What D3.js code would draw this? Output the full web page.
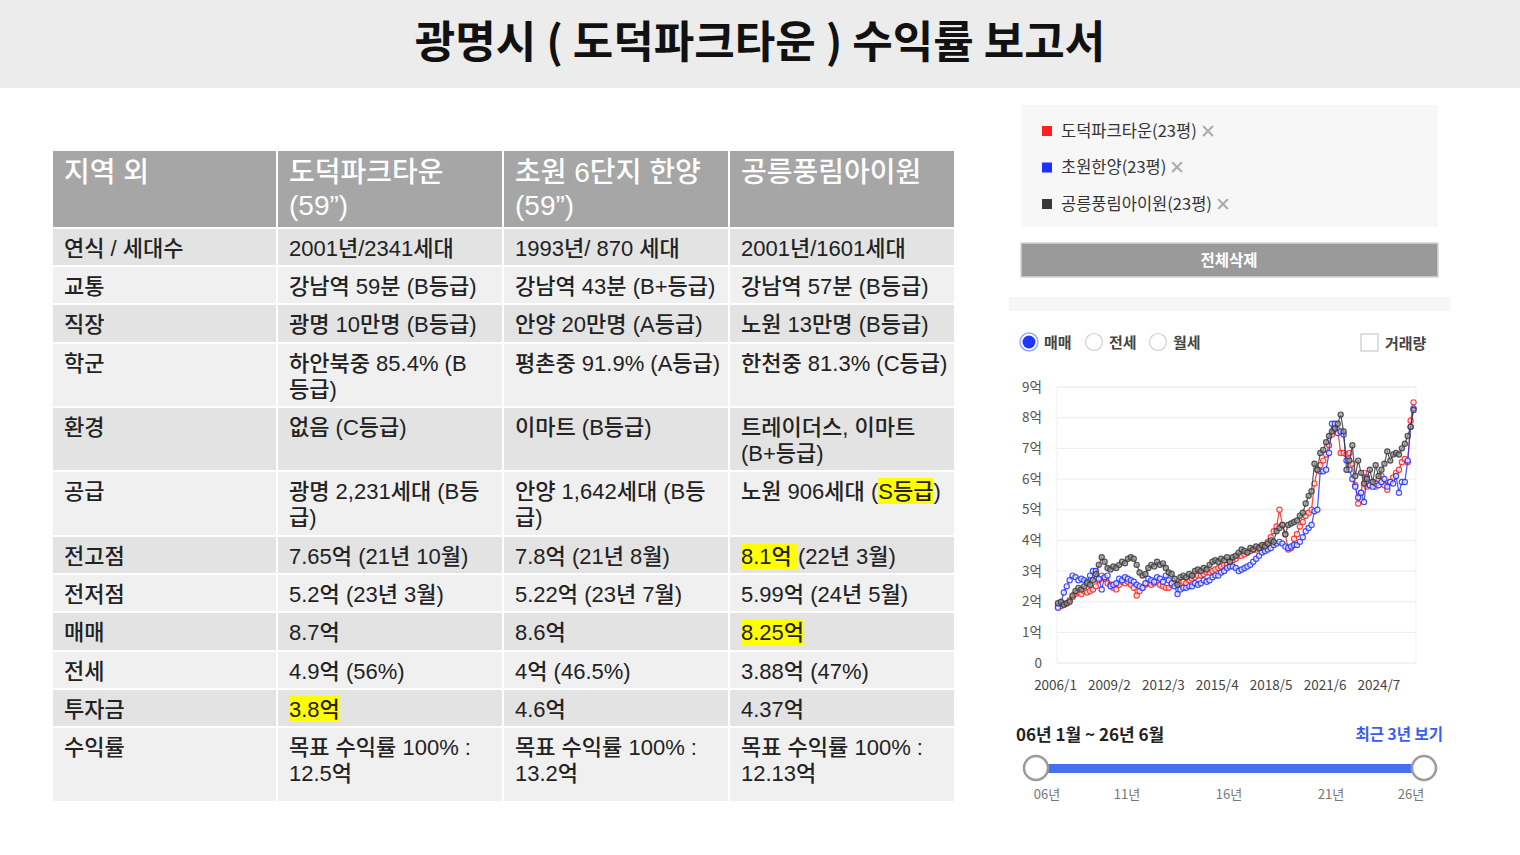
<!DOCTYPE html>
<html><head><meta charset="utf-8">
<script src="https://cdn.jsdelivr.net/npm/d3@7"></script>
<style>body{margin:0;background:#fff;} svg{display:block;}</style>
</head><body><svg id="c" width="1520" height="855"></svg>
<script>
// ---------------- DATA ----------------
const title = "광명시 ( 도덕파크타운 ) 수익률 보고서";
const headers = ["지역 외", "도덕파크타운\n(59”)", "초원 6단지 한양\n(59”)", "공릉풍림아이원"];
const rowLabels = ["연식 / 세대수","교통","직장","학군","환경","공급","전고점","전저점","매매","전세","투자금","수익률"];
const dodeok = ["2001년/2341세대","강남역 59분 (B등급)","광명 10만명 (B등급)","하안북중 85.4% (B\n등급)","없음 (C등급)","광명 2,231세대 (B등\n급)","7.65억 (21년 10월)","5.2억 (23년 3월)","8.7억","4.9억 (56%)","[3.8억]","목표 수익률 100% :\n12.5억"];
const chowon = ["1993년/ 870 세대","강남역 43분 (B+등급)","안양 20만명 (A등급)","평촌중 91.9% (A등급)","이마트 (B등급)","안양 1,642세대 (B등\n급)","7.8억 (21년 8월)","5.22억 (23년 7월)","8.6억","4억 (46.5%)","4.6억","목표 수익률 100% :\n13.2억"];
const gongneung = ["2001년/1601세대","강남역 57분 (B등급)","노원 13만명 (B등급)","한천중 81.3% (C등급)","트레이더스, 이마트\n(B+등급)","노원 906세대 ([S등급])","[8.1억 ](22년 3월)","5.99억 (24년 5월)","[8.25억]","3.88억 (47%)","4.37억","목표 수익률 100% :\n12.13억"];

const legendNames = ["도덕파크타운(23평)", "초원한양(23평)", "공릉풍림아이원(23평)"];
const seriesColors = ["#ff2020", "#2030ff", "#3a3a3a"];
const xTickLabels = ["2006/1","2009/2","2012/3","2015/4","2018/5","2021/6","2024/7"];
const yTickValues = [0,1,2,3,4,5,6,7,8,9];
const radioLabels = ["매매","전세","월세"];
const sliderYears = ["06년","11년","16년","21년","26년"];
const rangeText = "06년 1월 ~ 26년 6월";

// price (억) sampled every 2 months from 2006/1
const redValues = [
 1.85,1.85,1.9,1.95,2.05,2.15,2.25,2.3,2.25,2.35,
 2.3,2.35,2.4,2.5,2.7,2.85,2.75,2.6,2.55,2.45,
 2.4,2.55,2.65,2.6,2.65,2.55,2.45,2.2,2.35,2.45,
 2.55,2.6,2.55,2.6,2.65,2.55,2.5,2.45,2.45,2.55,
 2.6,2.55,2.6,2.65,2.6,2.7,2.75,2.8,2.85,2.85,
 2.9,2.95,2.95,3.0,3.05,3.1,3.15,3.2,3.2,3.3,
 3.35,3.4,3.5,3.5,3.55,3.6,3.65,3.7,3.7,3.75,
 3.8,3.85,3.95,4.1,4.3,4.45,5.0,4.5,4.2,3.7,
 3.75,4.05,4.2,4.45,4.6,4.8,4.9,5.0,5.85,6.3,
 6.45,6.6,6.8,7.1,7.45,7.7,7.6,6.85,6.85,6.8,
 6.85,6.5,5.8,5.2,5.55,6.2,5.75,5.8,5.9,5.75,
 6.0,6.1,5.8,5.65,5.9,6.05,6.2,6.3,6.55,6.65,
 6.55,7.9,8.5];
const blueValues = [
 1.8,1.95,2.3,2.5,2.7,2.85,2.8,2.7,2.75,2.7,
 2.65,2.85,3.0,3.0,2.75,2.4,2.8,2.85,2.5,2.55,
 2.6,2.75,2.7,2.8,2.75,2.7,2.65,2.55,2.5,2.45,
 2.6,2.75,2.7,2.65,2.8,2.75,2.65,2.85,2.7,2.6,
 2.5,2.25,2.4,2.45,2.45,2.5,2.5,2.6,2.55,2.6,
 2.7,2.65,2.7,2.8,2.85,2.85,2.95,3.0,3.1,3.15,
 3.15,3.1,3.0,3.05,3.1,3.15,3.2,3.3,3.4,3.5,
 3.6,3.65,3.7,3.75,3.85,3.9,3.95,3.9,3.8,3.75,
 3.8,3.85,3.85,3.95,4.1,4.3,4.4,4.5,4.95,5.0,
 6.25,6.25,6.3,6.85,7.8,7.8,7.5,7.55,7.45,6.6,
 6.3,6.0,5.75,5.4,5.55,5.25,6.05,5.8,5.75,5.85,
 5.8,5.9,6.0,5.75,5.9,5.85,6.1,5.55,5.9,5.9,
 6.6,7.7,8.3];
const blackValues = [
 1.95,2.0,1.9,1.95,2.0,2.2,2.35,2.45,2.4,2.5,
 2.6,2.55,2.7,2.9,3.2,3.45,3.3,3.1,3.05,3.15,
 3.1,3.2,3.3,3.25,3.4,3.45,3.4,3.2,2.95,2.85,
 2.9,3.1,3.2,3.15,3.3,3.2,3.25,3.1,2.95,2.9,
 2.75,2.55,2.8,2.85,2.8,2.9,2.85,3.0,3.05,3.0,
 3.1,3.05,3.2,3.3,3.35,3.3,3.4,3.35,3.45,3.3,
 3.45,3.5,3.6,3.7,3.65,3.6,3.75,3.7,3.8,3.75,
 3.85,3.8,3.9,4.0,3.95,4.3,4.4,4.5,4.2,4.5,
 4.55,4.6,4.65,4.8,4.9,5.2,5.45,5.6,6.5,6.3,
 6.85,6.95,7.2,7.4,7.55,7.65,7.8,8.1,7.55,6.3,
 6.6,7.1,6.1,6.6,6.2,5.85,6.0,6.3,5.9,6.45,
 6.1,6.3,6.5,6.9,6.6,6.8,6.85,6.8,7.0,7.15,
 7.4,7.7,8.25];

// ---------------- BUILD ----------------
const svg = d3.select("#c");
const KR = "'Noto Sans CJK KR','Noto Sans',sans-serif";
const TB = "'Liberation Sans','Noto Sans CJK KR',sans-serif";

// title bar
svg.append("rect").attr("x",0).attr("y",0).attr("width",1520).attr("height",88).attr("fill","#ececec");
svg.append("text").attr("x",760).attr("y",58).attr("text-anchor","middle")
  .attr("font-family",KR).attr("font-weight",700).attr("font-size",44).attr("fill","#111").text(title);

// table
const colX = [53,278,504,730,956];
const rowSteps = [38,38,39,64,64,65,38,38,39,38,38,75];
const tableTop = 151, headerH = 78;
const cols = [rowLabels, dodeok, chowon, gongneung];
const tbl = svg.append("g");
const cellLayer = tbl.append("g");
const hlLayer = tbl.append("g");
const txtLayer = tbl.append("g");

// header
headers.forEach((h,ci)=>{
  cellLayer.append("rect").attr("x",colX[ci]).attr("y",tableTop).attr("width",colX[ci+1]-colX[ci]-2).attr("height",headerH-2).attr("fill","#a6a6a6");
  h.split("\n").forEach((line,li)=>{
    txtLayer.append("text").attr("x",colX[ci]+11).attr("y",tableTop+31+li*33)
      .attr("font-family",TB).attr("font-weight",500).attr("font-size",28).attr("fill","#fff").text(line);
  });
});

let yTop = tableTop + headerH;
const highlights = [];
rowSteps.forEach((step,ri)=>{
  const fill = ri%2===0 ? "#e3e3e3" : "#f0f0f0";
  for(let ci=0;ci<4;ci++){
    cellLayer.append("rect").attr("x",colX[ci]).attr("y",yTop).attr("width",colX[ci+1]-colX[ci]-2).attr("height",step-2).attr("fill",fill);
    const content = cols[ci][ri];
    content.split("\n").forEach((line,li)=>{
      const baseY = yTop+27+li*26;
      const t = txtLayer.append("text").attr("x",colX[ci]+11).attr("y",baseY)
        .attr("font-family",TB).attr("font-weight",500).attr("font-size",22).attr("fill","#222");
      let idx = 0;
      const parts = line.split(/(\[[^\]]*\])/).filter(s=>s.length);
      parts.forEach(p=>{
        const hl = p.startsWith("[");
        const s = hl ? p.slice(1,-1) : p;
        t.append("tspan").text(s);
        if(hl) highlights.push({node:t.node(), start:idx, end:idx+s.length-1, base:baseY});
        idx += s.length;
      });
    });
  }
  yTop += step;
});
highlights.forEach(h=>{
  const a = h.node.getExtentOfChar(h.start), b = h.node.getExtentOfChar(h.end);
  hlLayer.append("rect").attr("x",a.x).attr("y",h.base-21).attr("width",b.x+b.width-a.x).attr("height",26).attr("fill","#ffff00");
});

// ---------------- RIGHT PANEL ----------------
svg.append("rect").attr("x",1021).attr("y",105).attr("width",417).attr("height",122).attr("fill","#f7f7f7");
legendNames.forEach((n,i)=>{
  const cy = 131 + i*36.5;
  svg.append("rect").attr("x",1042).attr("y",cy-5).attr("width",10).attr("height",10).attr("fill",seriesColors[i]);
  const t = svg.append("text").attr("x",1061).attr("y",cy+5.5).attr("font-family",KR).attr("font-size",16.5).attr("fill","#333").text(n);
  const w = t.node().getComputedTextLength();
  svg.append("text").attr("x",1061+w+3).attr("y",cy+6.5).attr("font-family",KR).attr("font-size",19).attr("fill","#aaa").text("✕");
});
svg.append("rect").attr("x",1021).attr("y",243).attr("width",417).attr("height",34).attr("fill","#9a9a9a").attr("stroke","#d4d4d4").attr("stroke-width",1.5);
svg.append("text").attr("x",1229).attr("y",265.5).attr("text-anchor","middle").attr("font-family",KR).attr("font-weight",700).attr("font-size",15.5).attr("fill","#fff").text("전체삭제");
svg.append("rect").attr("x",1009).attr("y",297).attr("width",442).attr("height",14).attr("fill","#f6f6f6");

// radios
const radioX = [1029,1094,1158];
radioLabels.forEach((l,i)=>{
  if(i===0){
    svg.append("circle").attr("cx",radioX[i]).attr("cy",342).attr("r",9).attr("fill","#fff").attr("stroke","#9aa8ff").attr("stroke-width",1.5);
    svg.append("circle").attr("cx",radioX[i]).attr("cy",342).attr("r",6.5).attr("fill","#1f36ff");
  } else {
    svg.append("circle").attr("cx",radioX[i]).attr("cy",342).attr("r",8.5).attr("fill","#fff").attr("stroke","#cfcfcf").attr("stroke-width",1.2);
  }
  svg.append("text").attr("x",radioX[i]+15).attr("y",347.5).attr("font-family",KR).attr("font-weight",700).attr("font-size",15).attr("fill","#444").text(l);
});
svg.append("rect").attr("x",1361).attr("y",334).attr("width",17).attr("height",17).attr("fill","#fff").attr("stroke","#c8c8c8").attr("stroke-width",1.2);
svg.append("text").attr("x",1385).attr("y",348.5).attr("font-family",KR).attr("font-weight",700).attr("font-size",15).attr("fill","#444").text("거래량");

// chart
const months = [];
for(let i=0;i<246;i++){ const yy=2006+Math.floor(i/12), m=i%12+1; months.push(yy+"/"+m); }
const sampleMonths = months.filter((d,i)=>i%2===0).slice(0,redValues.length);
const x = d3.scalePoint().domain(months).range([1058,1415]);
const y = d3.scaleLinear().domain([0,9]).range([663,387]);

const chart = svg.append("g");
chart.append("rect").attr("x",1057).attr("y",387).attr("width",359).attr("height",276).attr("fill","none").attr("stroke","#efefef");
chart.selectAll(".grid").data(yTickValues).join("line")
  .attr("x1",1057).attr("x2",1416).attr("y1",d=>y(d)).attr("y2",d=>y(d)).attr("stroke","#ececec");

const yAxis = chart.append("g").attr("transform","translate(1046,0)")
  .call(d3.axisLeft(y).tickValues(yTickValues).tickSize(0).tickPadding(4).tickFormat(d=>d===0?"0":d+"억"));
yAxis.select(".domain").remove();
yAxis.selectAll("text").attr("font-family",KR).attr("font-size",13.5).attr("fill","#555");

const xAxis = chart.append("g").attr("transform","translate(0,676)")
  .call(d3.axisBottom(x).tickValues(xTickLabels).tickSize(0).tickPadding(4));
xAxis.select(".domain").remove();
xAxis.selectAll("text").attr("font-family",KR).attr("font-size",13.5).attr("fill","#444").attr("dx",-3);

const allSeries = [redValues, blueValues, blackValues];
const line = d3.line().x(d=>x(d.m)).y(d=>y(d.v));
allSeries.forEach((vals,si)=>{
  const pts = vals.map((v,i)=>({m:sampleMonths[i], v}));
  const g = chart.append("g");
  g.append("path").attr("d",line(pts)).attr("fill","none").attr("stroke",seriesColors[si]).attr("stroke-width",1.2).attr("stroke-opacity",0.85);
  g.selectAll("circle").data(pts).join("circle")
    .attr("cx",d=>x(d.m)).attr("cy",d=>y(d.v)).attr("r",2.6)
    .attr("fill", si===2 ? "#9a9a9a" : "#fff").attr("fill-opacity",0.7)
    .attr("stroke",seriesColors[si]).attr("stroke-width",1.2).attr("stroke-opacity",0.85);
});

// range & slider
svg.append("text").attr("x",1016).attr("y",741).attr("font-family",KR).attr("font-weight",700).attr("font-size",17).attr("fill","#222").text(rangeText);
svg.append("text").attr("x",1443).attr("y",739.5).attr("text-anchor","end").attr("font-family",KR).attr("font-weight",700).attr("font-size",15.5).attr("fill","#3a5cf5").text("최근 3년 보기");
svg.append("rect").attr("x",1036).attr("y",764).attr("width",388).attr("height",9).attr("fill","#4671ee");
[1036,1424].forEach(cx=>{
  svg.append("circle").attr("cx",cx).attr("cy",768).attr("r",12).attr("fill","#fff").attr("stroke","#9a9a9a").attr("stroke-width",2.5);
});
const sx = d3.scalePoint().domain(sliderYears).range([1025,1433]);
sliderYears.forEach((s,i)=>{
  let px = sx(s);
  if(i===0) px = 1047; if(i===sliderYears.length-1) px = 1411;
  svg.append("text").attr("x",px).attr("y",799).attr("text-anchor","middle").attr("font-family",KR).attr("font-size",13).attr("fill","#777").text(s);
});
</script></body></html>
